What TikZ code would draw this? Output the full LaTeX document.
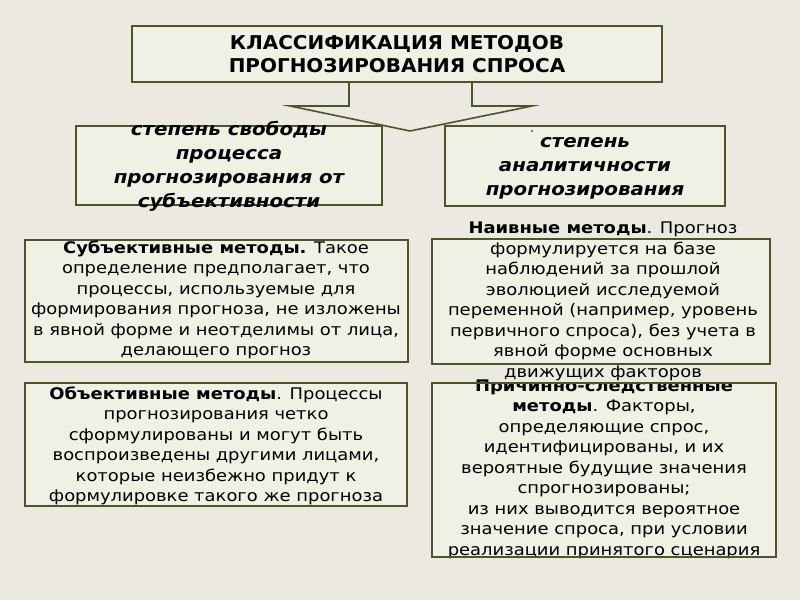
\documentclass[tikz,border=0pt]{standalone}
\usepackage{fontspec}
\setmainfont{DejaVu Sans}
\newfontfamily\bodyfont[FakeStretch=1.12]{DejaVu Sans}
\newfontfamily\headfont[FakeStretch=1.1]{DejaVu Sans}
\newfontfamily\titlefont[FakeStretch=1.05]{DejaVu Sans}
\definecolor{bg}{RGB}{236,234,224}
\definecolor{boxfill}{RGB}{238,241,227}
\definecolor{boxline}{RGB}{74,86,40}
\tikzset{
  frame/.style={draw=boxline, line width=2pt, fill=boxfill},
  bodytext/.style={align=center, inner sep=0pt, font=\bodyfont\fontsize{16}{20.5}\selectfont},
  headtext/.style={align=center, inner sep=0pt, font=\headfont\fontsize{18}{24}\selectfont\bfseries\itshape},
}
\begin{document}
\begin{tikzpicture}[x=1pt,y=-1pt]
\fill[bg] (0,0) rectangle (800,600);
\useasboundingbox (0,0) rectangle (800,600);

% title
\draw[frame] (132,26) rectangle (662,82);
\node[align=center, inner sep=0pt, font=\titlefont\fontsize{19}{23}\selectfont\bfseries] (title) at (397,54.5)
  {КЛАССИФИКАЦИЯ МЕТОДОВ\\ПРОГНОЗИРОВАНИЯ СПРОСА};

% block arrow
\coordinate (arrowtip) at (410,131);
\draw[boxline, line width=1.6pt, fill=bg, line join=miter]
  (349,83) -- (349,106) -- (290,106) -- (arrowtip) -- (532,106) -- (472,106) -- (472,83);

% level 2 boxes
\draw[frame] (76,126) rectangle (382,205);
\node[headtext] (freedom) at (229,166)
  {степень свободы\\процесса\\прогнозирования от\\субъективности};

\draw[frame] (445,126) rectangle (725,206);
\node[headtext] (analytic) at (585,168)
  {степень\\аналитичности\\прогнозирования};
\fill (532,131) circle (0.8pt);

% subjective
\draw[frame] (25,240) rectangle (408,362);
\node[bodytext] (subj) at (216,300)
  {\textbf{Субъективные методы.} Такое\\определение предполагает, что\\процессы, используемые для\\формирования прогноза, не изложены\\в явной форме и неотделимы от лица,\\делающего прогноз};

% naive
\draw[frame] (432,239) rectangle (770,364);
\node[bodytext] (naive) at (603,301.5)
  {\textbf{Наивные методы}. Прогноз\\формулируется на базе\\наблюдений за прошлой\\эволюцией исследуемой\\переменной (например, уровень\\первичного спроса), без учета в\\явной форме основных\\движущих факторов};

% objective
\draw[frame] (25,383) rectangle (407,506);
\node[bodytext] (obj) at (216,446)
  {\textbf{Объективные методы}. Процессы\\прогнозирования четко\\сформулированы и могут быть\\воспроизведены другими лицами,\\которые неизбежно придут к\\формулировке такого же прогноза};

% cause
\draw[frame] (432,383) rectangle (776,557);
\node[bodytext] (cause) at (604,469)
  {\textbf{Причинно-следственные}\\\textbf{методы}. Факторы,\\определяющие спрос,\\идентифицированы, и их\\вероятные будущие значения\\спрогнозированы;\\из них выводится вероятное\\значение спроса, при условии\\реализации принятого сценария};
\draw[boxline, line width=2pt] (432,383) rectangle (776,557);
\end{tikzpicture}
\end{document}
